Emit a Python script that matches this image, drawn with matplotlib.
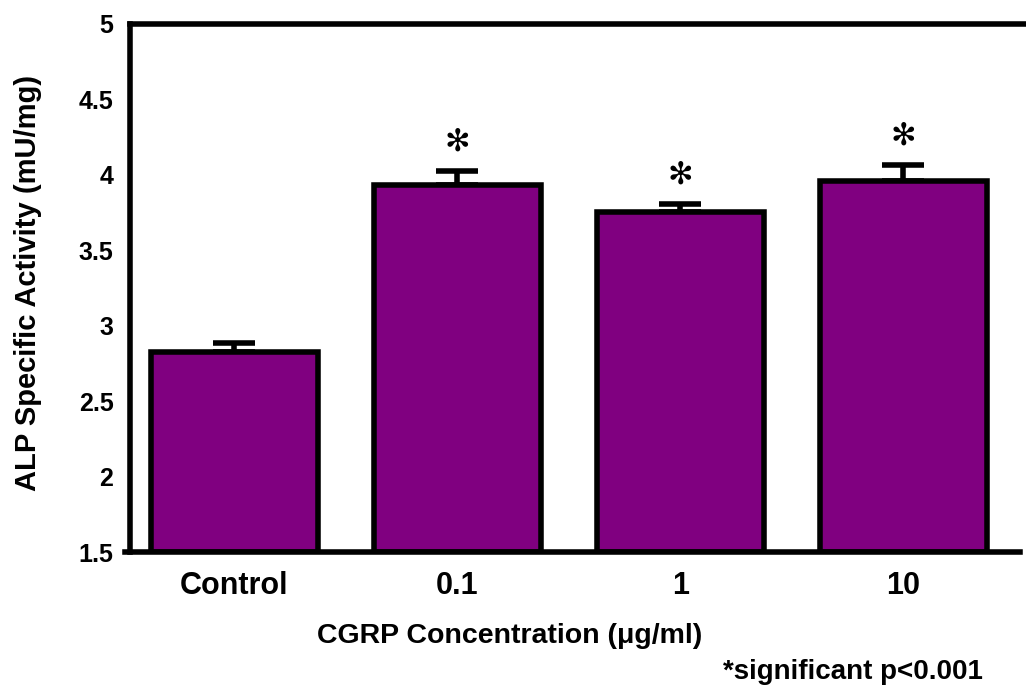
import matplotlib.pyplot as plt

plt.rcParams['font.family'] = ['Liberation Sans', 'DejaVu Sans']
plt.rcParams['font.weight'] = 'bold'

groups = ['Control', '0.1', '1', '10']
activity = [2.826, 3.933, 3.754, 3.96]
err = [0.06, 0.093, 0.053, 0.106]
significant = [False, True, True, True]

fig = plt.figure(figsize=(10.26, 6.89), dpi=100)
ax = fig.add_axes([125 / 1026, 1 - 552 / 689, 901 / 1026, 528 / 689])

x = range(len(groups))
ax.bar(x, [a - 1.5 for a in activity], bottom=1.5, width=0.75,
       color='#800080', edgecolor='black', linewidth=4, zorder=2)
ax.errorbar(x, activity, yerr=[[0] * len(err), err], fmt='none',
            ecolor='black', elinewidth=4, capsize=15, capthick=4, zorder=1)

for xi, a, e, s in zip(x, activity, err, significant):
    if s:
        ax.text(xi, a + e + 0.19, '\u273b', ha='center', va='center',
                fontsize=22, family='DejaVu Sans', fontweight='normal')

ax.set_xlim(-0.49, 3.55)
ax.set_ylim(1.5, 5)
ax.spines['left'].set_position(('data', -0.467))
ax.spines['top'].set_bounds(-0.467, 3.55)
ax.spines['bottom'].set_bounds(-0.49, 3.525)
ax.spines['right'].set_visible(False)
for sp in ['left', 'top', 'bottom']:
    ax.spines[sp].set_linewidth(4)

ax.set_yticks([1.5, 2, 2.5, 3, 3.5, 4, 4.5, 5])
ax.set_yticklabels(['1.5', '2', '2.5', '3', '3.5', '4', '4.5', '5'])
ax.set_xticks(list(x))
ax.set_xticklabels(groups, fontsize=22, fontweight='bold')
ax.tick_params(axis='x', length=0, pad=14)
ax.tick_params(axis='y', labelsize=18, length=0, pad=12)

ax.set_ylabel('ALP Specific Activity (mU/mg)', fontsize=21, fontweight='bold')
ax.yaxis.set_label_coords(-0.092, 0.51)
ax.set_xlabel('CGRP Concentration (\u03bcg/ml)', fontsize=20.5, fontweight='bold')
ax.xaxis.set_label_coords(0.427, -0.135)
fig.text(983 / 1026, 1 - 672 / 689, '*significant p<0.001', ha='right', va='center',
         fontsize=20, fontweight='bold')

fig.savefig('out.png', dpi=100)
